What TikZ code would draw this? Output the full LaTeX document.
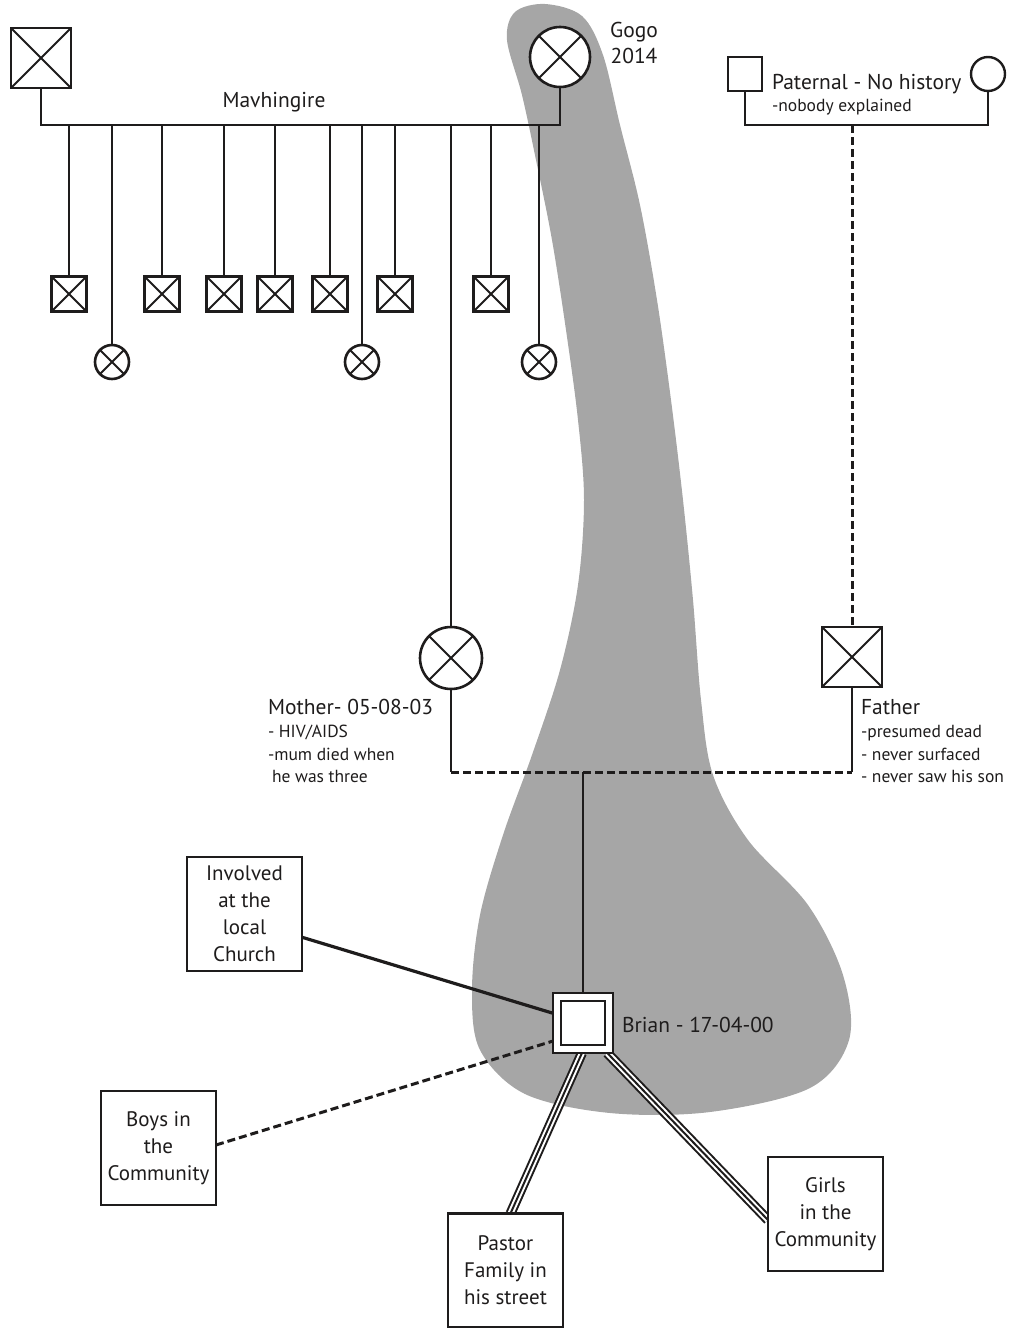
\documentclass[tikz,border=0pt]{standalone}
\usepackage{fontspec}
\setmainfont{PT Sans}
\pgfdeclarelayer{bgblob}
\pgfdeclarelayer{bglines}
\pgfsetlayers{bgblob,bglines,main}
\definecolor{blob}{RGB}{166,166,166}
\definecolor{ink}{RGB}{30,28,28}
\begin{document}
\begin{tikzpicture}[x=1pt,y=-1pt,
  every node/.style={inner sep=0pt, outer sep=0pt, text=ink},
  ln/.style={line width=2.1pt, draw=ink},
  dsh/.style={line width=3pt, draw=ink, dash pattern=on 8pt off 4pt},
  thk/.style={line width=3.2pt, draw=ink},
  trip/.style={line width=2pt, draw=ink, preaction={draw=ink, line width=10pt}, preaction={draw=white, line width=6pt}},
  xcross/.style={path picture={\draw[line width=2pt, ink] (path picture bounding box.south west) -- (path picture bounding box.north east) (path picture bounding box.north west) -- (path picture bounding box.south east);}},
  dmale/.style={rectangle, draw=ink, line width=2.6pt, fill=white, minimum size=#1, xcross},
  dfem/.style={circle, draw=ink, line width=2.6pt, fill=white, minimum size=#1, xcross},
  male/.style={rectangle, draw=ink, line width=2.4pt, fill=white, minimum size=#1},
  fem/.style={circle, draw=ink, line width=2.4pt, fill=white, minimum size=#1},
  bigtxt/.style={font=\fontsize{21.5}{25}\selectfont},
  smalltxt/.style={font=\fontsize{17.5}{22.5}\selectfont},
  box/.style={rectangle, draw=ink, line width=2.5pt, fill=white, minimum width=115pt, minimum height=114pt, align=center, font=\fontsize{21}{27}\selectfont}
]
\useasboundingbox (0,0) rectangle (1010,1328);

% ---- nodes ----
\node[dmale=60] (gf) at (41,58) {};
\node[dfem=60] (gogo) at (560,57) {};
\node[bigtxt, anchor=base] (gogolab) at (634,37) {Gogo};
\node[bigtxt, anchor=base] (gogoyear) at (634,63) {2014};
\node[bigtxt, anchor=base] (mav) at (274,107) {Mavhingire};

\node[dmale=35] (c1) at (69,294) {};
\node[dfem=34] (c2) at (112,362) {};
\node[dmale=35] (c3) at (162,294) {};
\node[dmale=35] (c4) at (224,294) {};
\node[dmale=35] (c5) at (275,294) {};
\node[dmale=35] (c6) at (330,294) {};
\node[dfem=34] (c7) at (362,362) {};
\node[dmale=35] (c8) at (395,294) {};
\node[dmale=35] (c10) at (491,294) {};
\node[dfem=34] (c11) at (539,362) {};

\node[male=34] (pgf) at (745,74) {};
\node[fem=34] (pgm) at (988,74) {};
\node[bigtxt, anchor=base west] (patlab) at (772,89) {Paternal - No history};
\node[smalltxt, anchor=base west] (patsub) at (772,111) {-nobody explained};

\node[dfem=62] (mother) at (451,658) {};
\node[dmale=60] (father) at (852,657) {};

\node[bigtxt, anchor=base west] (mlab) at (268,714) {Mother- 05-08-03};
\node[smalltxt, anchor=base west] (m1) at (268,737) {- HIV/AIDS};
\node[smalltxt, anchor=base west] (m2) at (268,760) {-mum died when};
\node[smalltxt, anchor=base west] (m3) at (272,782) {he was three};

\node[bigtxt, anchor=base west] (flab) at (861,714) {Father};
\node[smalltxt, anchor=base west] (f1) at (861,737) {-presumed dead};
\node[smalltxt, anchor=base west] (f2) at (861,760) {- never surfaced};
\node[smalltxt, anchor=base west] (f3) at (861,782) {- never saw his son};

\node[male=60, line width=2.6pt] (brian) at (583,1023) {};
\node[male=44, line width=2.6pt] (brianin) at (brian.center) {};
\node[bigtxt, anchor=base west] (brianlab) at (622,1032) {Brian - 17-04-00};

\node[box] (church) at (244.5,914) {Involved\\at the\\local\\Church};
\node[box] (boys) at (158.5,1148) {Boys in\\the\\Community};
\node[box] (pastor) at (505.5,1270.5) {Pastor\\Family in\\his street};
\node[box] (girls) at (825.5,1214) {Girls\\in the\\Community};

\coordinate (bar) at (0,125);
\coordinate (mline) at (0,772);

% ---- gray blob ----
\begin{pgfonlayer}{bgblob}
\fill[blob] plot[smooth cycle, tension=0.55] coordinates {
 (545,4) (582,16) (603,55) (620,125) (640,205) (657,300) (671,400) (683,500)
 (693,600) (701,700) (713,775) (748,840) (808,905) (843,975) (849,1040)
 (810,1088) (710,1112) (610,1113) (525,1094) (480,1050) (472,990) (480,915)
 (503,835) (532,755) (560,670) (578,585) (584,500) (578,420) (566,330)
 (552,240) (536,160) (522,95) (507,40) (515,12)};
\end{pgfonlayer}

% ---- connectors ----
\begin{pgfonlayer}{bglines}
\draw[ln] (gf.south) -- (gf.south |- bar) -- (gogo.south |- bar) -- (gogo.south);
\foreach \c in {c1,c2,c3,c4,c5,c6,c7,c8,c10,c11}
  \draw[ln] (\c.north) -- (\c.north |- bar);
\draw[ln] (mother.north) -- (mother.north |- bar);
\draw[ln] (pgf.south) -- (pgf.south |- bar) -- (pgm.south |- bar) -- (pgm.south);
\draw[dsh] (father.north |- bar) -- (father.north);
\draw[ln] (mother.south) -- (mother.south |- mline);
\draw[ln] (father.south) -- (father.south |- mline);
\draw[dsh] (mother.south |- mline) -- (father.south |- mline);
\draw[ln] (brian.north |- mline) -- (brian.north);
\draw[thk] (church.-22) -- (brian.162);
\draw[dsh] (boys.3) -- (brian.211);
\draw[trip] (brian.268) -- (pastor.85);
\draw[trip] (brian.309) -- (girls.186);
\end{pgfonlayer}
\end{tikzpicture}
\end{document}
